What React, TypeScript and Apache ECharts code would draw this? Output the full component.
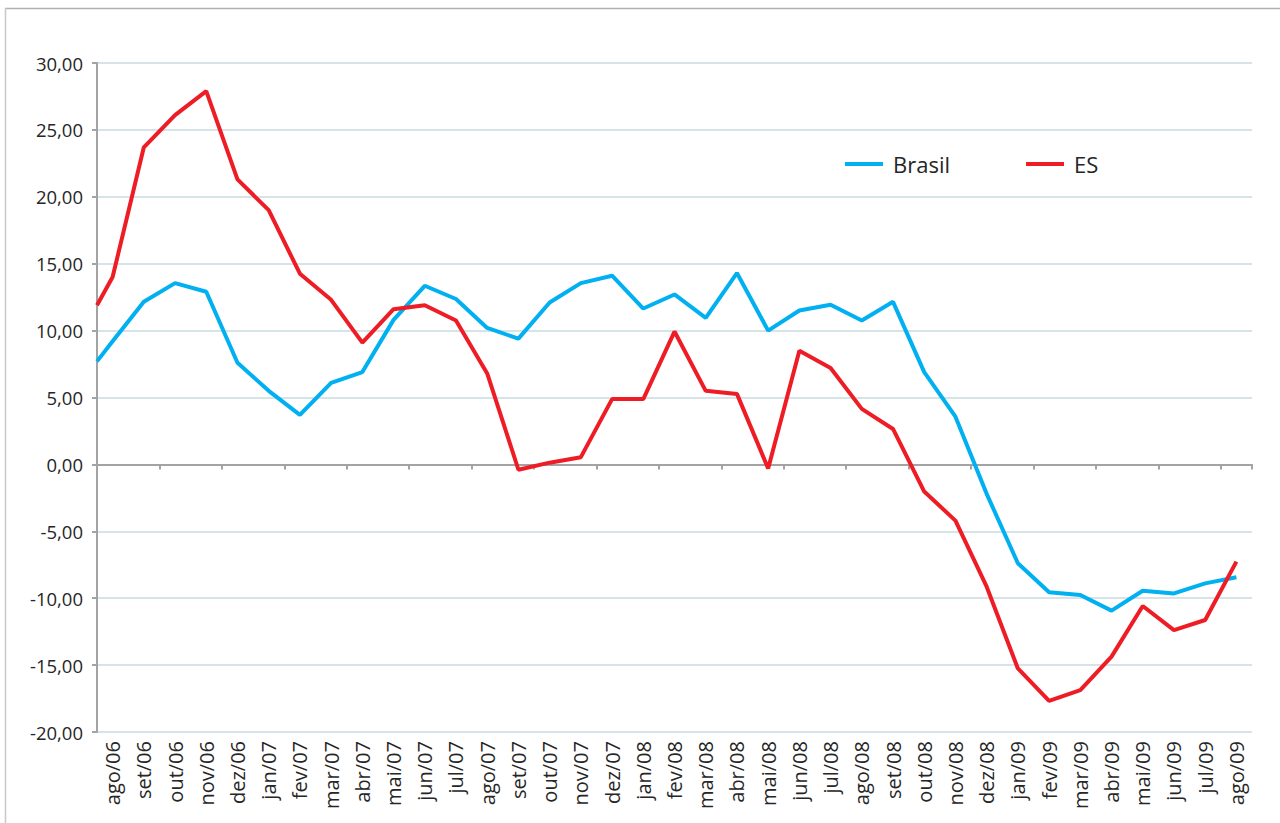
import React, { useEffect, useRef } from "react";
import * as echarts from "echarts";

const months = [
  "ago/06", "set/06", "out/06", "nov/06", "dez/06", "jan/07", "fev/07", "mar/07",
  "abr/07", "mai/07", "jun/07", "jul/07", "ago/07", "set/07", "out/07", "nov/07",
  "dez/07", "jan/08", "fev/08", "mar/08", "abr/08", "mai/08", "jun/08", "jul/08",
  "ago/08", "set/08", "out/08", "nov/08", "dez/08", "jan/09", "fev/09", "mar/09",
  "abr/09", "mai/09", "jun/09", "jul/09", "ago/09",
];

// value where each line enters at the left edge of the plot
const brasilStart = 7.7;
const esStart = 11.9;

const brasil = [
  9.2, 12.15, 13.55, 12.9, 7.6, 5.5, 3.7, 6.1,
  6.9, 10.8, 13.35, 12.36, 10.2, 9.4, 12.1, 13.55,
  14.1, 11.65, 12.7, 10.95, 14.3, 10.0, 11.5, 11.93,
  10.75, 12.15, 6.9, 3.57, -2.2, -7.39, -9.56, -9.76,
  -10.93, -9.44, -9.64, -8.89, -8.44,
];

const es = [
  14.0, 23.7, 26.1, 27.9, 21.3, 19.0, 14.25, 12.3,
  9.1, 11.6, 11.9, 10.75, 6.8, -0.4, 0.13, 0.54,
  4.88, 4.88, 9.93, 5.5, 5.27, -0.3, 8.5, 7.2,
  4.15, 2.65, -2.03, -4.2, -9.14, -15.25, -17.67, -16.87,
  -14.37, -10.58, -12.38, -11.63, -7.27,
];

const yMin = -20;
const yMax = 30;
const yStep = 5;

const FONT = "'Open Sans', sans-serif";
const TEXT = "#262626";
const AXIS = "#a3a3a3";

const toPairs = (start: number, vals: number[]) =>
  [[-0.5, start] as [number, number]].concat(vals.map((v, i) => [i, v] as [number, number]));

export default function App() {
  const ref = useRef<HTMLDivElement>(null);

  useEffect(() => {
    if (!ref.current) return;
    const chart = echarts.init(ref.current, null, { renderer: "svg" });
    chart.setOption({
      animation: false,
      backgroundColor: "#ffffff",
      textStyle: { fontFamily: FONT },
      graphic: [
        { type: "line", shape: { x1: 5, y1: 8.5, x2: 1280, y2: 8.5 }, style: { stroke: "#b0b0b0", lineWidth: 1.5 } },
        { type: "line", shape: { x1: 5.5, y1: 8, x2: 5.5, y2: 823 }, style: { stroke: "#c8c8c8", lineWidth: 1.5 } },
      ],
      legend: {
        left: 845,
        top: 153,
        padding: 0,
        itemGap: 76,
        itemWidth: 38,
        itemHeight: 4,
        icon: "rect",
        textStyle: { fontFamily: FONT, fontSize: 22, color: TEXT, padding: [0, 0, 0, 5] },
        data: ["Brasil", "ES"],
      },
      grid: { left: 97, right: 28, top: 63, bottom: 91, containLabel: false },
      xAxis: [
        {
          type: "value",
          position: "bottom",
          min: -0.5,
          max: months.length - 0.5,
          show: false,
          axisLine: { onZero: false },
        },
        {
          type: "category",
          position: "bottom",
          data: months,
          boundaryGap: true,
          axisLine: { onZero: true, onZeroAxisIndex: 0, lineStyle: { color: AXIS, width: 2 } },
          axisTick: { show: true, length: 5, lineStyle: { color: AXIS, width: 2 } },
          axisLabel: { show: false },
          splitLine: { show: false },
        },
        {
          type: "category",
          position: "bottom",
          data: months,
          boundaryGap: true,
          axisLine: { show: false, onZero: false },
          axisTick: { show: false },
          axisLabel: {
            interval: 0,
            rotate: 90,
            margin: 9,
            fontFamily: FONT,
            fontSize: 20,
            color: TEXT,
          },
          splitLine: { show: false },
        },
      ],
      yAxis: {
        type: "value",
        position: "left",
        min: yMin,
        max: yMax,
        interval: yStep,
        axisLine: { show: true, onZero: false, lineStyle: { color: AXIS, width: 2 } },
        axisTick: { show: true, length: 5, lineStyle: { color: AXIS, width: 2 } },
        axisLabel: {
          margin: 14,
          fontFamily: FONT,
          fontSize: 18.5,
          color: TEXT,
          formatter: (v: number) => v.toFixed(2).replace(".", ","),
        },
        splitLine: { show: true, lineStyle: { color: "#d6e4e8", width: 2 } },
      },
      series: [
        {
          name: "Brasil",
          type: "line",
          xAxisIndex: 0,
          data: toPairs(brasilStart, brasil),
          symbol: "none",
          lineStyle: { color: "#00B0F0", width: 4 },
          itemStyle: { color: "#00B0F0" },
        },
        {
          name: "ES",
          type: "line",
          xAxisIndex: 0,
          data: toPairs(esStart, es),
          symbol: "none",
          lineStyle: { color: "#EE1C25", width: 4 },
          itemStyle: { color: "#EE1C25" },
        },
      ],
    });
    return () => chart.dispose();
  }, []);

  return (
    <div
      ref={ref}
      style={{ position: "absolute", left: 0, top: 0, width: 1280, height: 823 }}
    />
  );
}
